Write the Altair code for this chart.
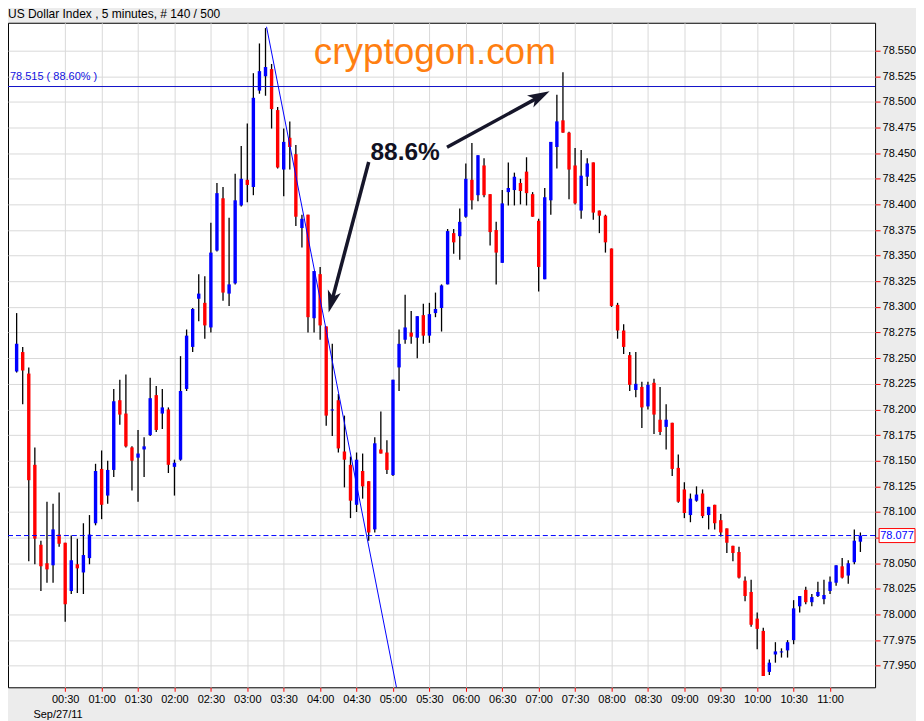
import json
import altair as alt
import pandas as pd

# ---------------- data ----------------
opens = [
    78.237, 78.256, 78.235, 78.146, 78.068, 78.050, 78.048, 78.078, 78.070, 78.023,
    78.049, 78.041, 78.055, 78.089, 78.142, 78.116, 78.141, 78.209, 78.196, 78.163,
    78.153, 78.161, 78.175, 78.214, 78.196, 78.200, 78.144, 78.151, 78.220, 78.261,
    78.308, 78.304, 78.280, 78.355, 78.406, 78.313, 78.323, 78.399, 78.424, 78.417,
    78.511, 78.525, 78.532, 78.492, 78.434, 78.465, 78.449, 78.377, 78.390, 78.289,
    78.332, 78.281, 78.199, 78.209, 78.159, 78.146, 78.107, 78.140, 78.130, 78.083,
    78.161, 78.158, 78.136, 78.241, 78.268, 78.275, 78.270, 78.292, 78.272, 78.294,
    78.299, 78.322, 78.372, 78.369, 78.388, 78.424, 78.409, 78.438, 78.410, 78.375,
    78.343, 78.412, 78.414, 78.421, 78.432, 78.410, 78.384, 78.327, 78.404, 78.456,
    78.482, 78.470, 78.438, 78.394, 78.427, 78.441, 78.394, 78.389, 78.357, 78.302,
    78.277, 78.253, 78.219, 78.222, 78.203, 78.226, 78.190, 78.183, 78.187, 78.143,
    78.122, 78.097, 78.111, 78.118, 78.097, 78.107, 78.092, 78.084, 78.067, 78.061,
    78.033, 78.022, 77.996, 77.984, 77.944, 77.961, 77.963, 77.965, 77.975, 78.008,
    78.024, 78.012, 78.018, 78.015, 78.023, 78.031, 78.047, 78.038, 78.051, 78.071,
]
highs = [
    78.294, 78.261, 78.241, 78.163, 78.072, 78.110, 78.108, 78.119, 78.070, 78.077,
    78.074, 78.089, 78.097, 78.147, 78.160, 78.150, 78.220, 78.229, 78.234, 78.164,
    78.180, 78.173, 78.231, 78.223, 78.220, 78.202, 78.151, 78.252, 78.278, 78.299,
    78.332, 78.330, 78.382, 78.421, 78.417, 78.387, 78.430, 78.457, 78.479, 78.528,
    78.557, 78.572, 78.537, 78.495, 78.474, 78.481, 78.458, 78.390, 78.390, 78.335,
    78.339, 78.281, 78.264, 78.215, 78.194, 78.154, 78.158, 78.157, 78.130, 78.173,
    78.198, 78.170, 78.229, 78.278, 78.312, 78.296, 78.291, 78.303, 78.304, 78.314,
    78.322, 78.376, 78.376, 78.396, 78.440, 78.460, 78.448, 78.445, 78.410, 78.383,
    78.414, 78.441, 78.431, 78.425, 78.446, 78.412, 78.386, 78.416, 78.461, 78.507,
    78.529, 78.471, 78.455, 78.453, 78.445, 78.441, 78.394, 78.390, 78.357, 78.304,
    78.283, 78.256, 78.256, 78.227, 78.227, 78.230, 78.222, 78.205, 78.187, 78.156,
    78.129, 78.118, 78.125, 78.122, 78.105, 78.107, 78.098, 78.084, 78.067, 78.066,
    78.037, 78.034, 78.002, 77.987, 77.956, 77.973, 77.967, 77.975, 78.014, 78.018,
    78.027, 78.020, 78.032, 78.034, 78.037, 78.048, 78.055, 78.053, 78.083, 78.080,
]
lows = [
    78.236, 78.205, 78.052, 78.049, 78.023, 78.031, 78.031, 78.066, 77.993, 78.020,
    78.021, 78.020, 78.049, 78.087, 78.093, 78.108, 78.134, 78.185, 78.163, 78.121,
    78.110, 78.134, 78.174, 78.178, 78.181, 78.138, 78.116, 78.150, 78.218, 78.256,
    78.286, 78.269, 78.275, 78.354, 78.306, 78.301, 78.322, 78.398, 78.402, 78.409,
    78.508, 78.506, 78.474, 78.435, 78.408, 78.434, 78.379, 78.358, 78.275, 78.275,
    78.268, 78.184, 78.174, 78.158, 78.124, 78.094, 78.100, 78.113, 78.072, 78.080,
    78.157, 78.137, 78.135, 78.218, 78.264, 78.264, 78.250, 78.264, 78.265, 78.290,
    78.276, 78.322, 78.352, 78.346, 78.387, 78.395, 78.403, 78.407, 78.360, 78.322,
    78.343, 78.399, 78.399, 78.400, 78.399, 78.388, 78.315, 78.327, 78.390, 78.435,
    78.470, 78.405, 78.400, 78.386, 78.418, 78.385, 78.372, 78.353, 78.300, 78.269,
    78.254, 78.218, 78.212, 78.182, 78.200, 78.176, 78.175, 78.161, 78.135, 78.109,
    78.094, 78.090, 78.110, 78.094, 78.083, 78.083, 78.076, 78.060, 78.052, 78.035,
    78.013, 77.988, 77.966, 77.940, 77.941, 77.953, 77.958, 77.958, 77.971, 78.002,
    78.010, 78.008, 78.017, 78.010, 78.020, 78.028, 78.035, 78.030, 78.049, 78.061,
]
closes = [
    78.264, 78.238, 78.131, 78.074, 78.047, 78.044, 78.083, 78.069, 78.010, 78.053,
    78.045, 78.058, 78.078, 78.140, 78.107, 78.141, 78.208, 78.195, 78.164, 78.150,
    78.157, 78.164, 78.211, 78.180, 78.202, 78.146, 78.148, 78.218, 78.272, 78.298,
    78.313, 78.282, 78.353, 78.411, 78.314, 78.322, 78.404, 78.425, 78.419, 78.504,
    78.530, 78.534, 78.493, 78.436, 78.461, 78.456, 78.388, 78.386, 78.290, 78.335,
    78.282, 78.194, 78.200, 78.162, 78.151, 78.111, 78.151, 78.125, 78.080, 78.167,
    78.157, 78.141, 78.229, 78.264, 78.280, 78.271, 78.291, 78.272, 78.293, 78.298,
    78.321, 78.374, 78.363, 78.383, 78.425, 78.404, 78.448, 78.409, 78.373, 78.353,
    78.401, 78.416, 78.427, 78.413, 78.411, 78.388, 78.339, 78.407, 78.461, 78.481,
    78.470, 78.434, 78.401, 78.428, 78.440, 78.392, 78.389, 78.363, 78.301, 78.277,
    78.261, 78.224, 78.225, 78.202, 78.224, 78.195, 78.178, 78.190, 78.142, 78.110,
    78.099, 78.113, 78.117, 78.096, 78.105, 78.089, 78.080, 78.070, 78.060, 78.036,
    78.018, 77.990, 77.986, 77.940, 77.953, 77.964, 77.964, 77.973, 78.006, 78.018,
    78.012, 78.017, 78.022, 78.019, 78.032, 78.048, 78.036, 78.050, 78.072, 78.077,
]

tick_bars = [8, 14, 20, 26, 32, 38, 44, 50, 56, 62, 68, 74, 80, 86, 92, 98, 104, 110, 116, 122, 128, 134]
tick_labels = ["00:30", "01:00", "01:30", "02:00", "02:30", "03:00", "03:30", "04:00", "04:30", "05:00",
               "05:30", "06:00", "06:30", "07:00", "07:30", "08:00", "08:30", "09:00", "09:30", "10:00",
               "10:30", "11:00"]
y_ticks = [77.950, 77.975, 78.000, 78.025, 78.050, 78.075, 78.100, 78.125, 78.150, 78.175,
           78.200, 78.225, 78.250, 78.275, 78.300, 78.325, 78.350, 78.375, 78.400, 78.425,
           78.450, 78.475, 78.500, 78.525, 78.550]

title_text = "US Dollar Index , 5 minutes, # 140 / 500"
date_label = "Sep/27/11"
retr_level = 78.515
retr_pct = 88.60
last_price = closes[-1]

# trend line (from the swing high, through the swing low, to the chart bottom)
trend_bars = [41.17, 62.57]
trend_prices = [78.5733, 77.929]

# annotations (bar index, price)
brand_text = "cryptogon.com"
brand_pos = (68.9, 78.537)
pct_text = "88.6%"
pct_pos = (64.0, 78.450)
arrow1 = {"x": 58.0, "y": 78.4414, "x2": 51.9, "y2": 78.3052, "tx": 51.4, "ty": 78.2945}
arrow2 = {"x": 70.9, "y": 78.4557, "x2": 86.1, "y2": 78.5049, "tx": 87.8, "ty": 78.5105}

# ---------------- chart ----------------
W, H = 869, 666
FONT = "Liberation Sans"
GRID = "#d9d9d9"

df = pd.DataFrame({"bar": list(range(len(opens))), "open": opens, "high": highs,
                   "low": lows, "close": closes})
df["dir"] = ["up" if c >= o else "down" for o, c in zip(opens, closes)]

xs = alt.Scale(domain=[-0.6, 140.6], nice=False, zero=False)
ys = alt.Scale(domain=[77.929, 78.5772], nice=False, zero=False)

label_expr = f"{json.dumps(tick_labels)}[indexof({json.dumps(tick_bars)}, datum.value)]"
# the axis label hidden behind the last-price box is left blank, as in the reference
y_label_expr = f"abs(datum.value - {last_price}) < 0.01 ? '' : format(datum.value, '.3f')"

x_axis = alt.Axis(values=tick_bars, labelExpr=label_expr, grid=True, gridColor=GRID,
                  gridWidth=1, tickColor="#ff0000", tickSize=4, domain=False,
                  labelFont=FONT, labelFontSize=11, labelColor="#000000", labelPadding=2,
                  labelFlush=False, title=date_label, titleX=25, titleY=30,
                  titleAlign="left", titleBaseline="alphabetic", titleFont=FONT,
                  titleFontSize=11, titleFontWeight="normal", titleColor="#000000")
y_axis = alt.Axis(orient="right", values=y_ticks, labelExpr=y_label_expr, grid=True,
                  gridColor=GRID, gridWidth=1, tickColor="#ff0000", tickSize=5, domain=False,
                  labelFont=FONT, labelFontSize=11, labelColor="#000000", labelPadding=2,
                  title=None)


def X(field):
    return alt.X(field, type="quantitative", scale=xs, axis=x_axis)


def Y(field):
    return alt.Y(field, type="quantitative", scale=ys, axis=y_axis)


base = alt.Chart(df)

wicks = base.mark_rule(color="black", strokeWidth=1.3).encode(
    x=X("bar"), y=Y("low"), y2="high:Q")

bodies = base.mark_bar(size=3.4).encode(
    x=X("bar"), y=Y("open"), y2="close:Q",
    color=alt.Color("dir:N", scale=alt.Scale(domain=["up", "down"], range=["#0000ff", "#ff0000"]),
                    legend=None),
)

trend = alt.Chart(pd.DataFrame({"bar": trend_bars, "price": trend_prices})).mark_line(
    color="#0000ff", strokeWidth=1, clip=True
).encode(x=X("bar"), y=Y("price"))

retr_df = pd.DataFrame({"price": [retr_level],
                        "label": [f"{retr_level:.3f} ( {retr_pct:.2f}% )"]})
retr_line = alt.Chart(retr_df).mark_rule(color="#1010c8", strokeWidth=1).encode(y=Y("price"))
retr_label = alt.Chart(retr_df).mark_text(
    align="left", baseline="bottom", dy=-5, font=FONT, fontSize=11, color="#1010e0"
).encode(x=alt.value(2), y=Y("price"), text="label:N")

last_df = pd.DataFrame({"price": [last_price], "label": [f"{last_price:.3f}"]})
last_line = alt.Chart(last_df).mark_rule(color="#0000ff", strokeWidth=1, strokeDash=[5, 3]).encode(
    y=Y("price"), x=alt.value(0), x2=alt.value(W + 3))
last_box = alt.Chart(last_df).mark_point(
    shape="M-1,-0.39L1,-0.39L1,0.39L-1,0.39Z", size=1296, filled=True, fill="white",
    stroke="#ff0000", strokeWidth=1, opacity=1
).encode(x=alt.value(W + 22), y=Y("price"))
last_text = alt.Chart(last_df).mark_text(
    align="center", baseline="middle", font=FONT, fontSize=11, color="#0000ff"
).encode(x=alt.value(W + 22), y=Y("price"), text="label:N")

brand = alt.Chart(pd.DataFrame({"bar": [brand_pos[0]], "price": [brand_pos[1]], "t": [brand_text]})).mark_text(
    align="center", baseline="alphabetic", font=FONT, fontSize=37, color="#ff7f11"
).encode(x=X("bar"), y=Y("price"), text="t:N")

pct = alt.Chart(pd.DataFrame({"bar": [pct_pos[0]], "price": [pct_pos[1]], "t": [pct_text]})).mark_text(
    align="center", baseline="middle", font=FONT, fontSize=24.5, fontWeight="bold", color="#111122"
).encode(x=X("bar"), y=Y("price"), text="t:N")

ARROW_COLOR = "#16162a"
arrows_df = pd.DataFrame([arrow1, arrow2])
shafts = alt.Chart(arrows_df).mark_rule(color=ARROW_COLOR, strokeWidth=3.5).encode(
    x=X("x"), y=Y("y"), x2="x2:Q", y2="y2:Q")
HEAD = "M0,0L0.55,1.8L0,1.35L-0.55,1.8Z"
head1 = alt.Chart(pd.DataFrame([arrow1])).mark_point(
    shape=HEAD, size=600, filled=True, color=ARROW_COLOR, opacity=1, angle=195
).encode(x=X("tx"), y=Y("ty"))
head2 = alt.Chart(pd.DataFrame([arrow2])).mark_point(
    shape=HEAD, size=600, filled=True, color=ARROW_COLOR, opacity=1, angle=62
).encode(x=X("tx"), y=Y("ty"))

chart = alt.layer(
    wicks, bodies, trend, retr_line, retr_label, last_line, brand, pct, shafts, head1, head2,
    last_box, last_text
).properties(
    width=W, height=H,
    title=alt.Title(text=title_text, anchor="start", frame="group", font=FONT, fontSize=12,
                    fontWeight="normal", color="#000000", offset=2),
    background="#ececec",
    padding={"left": 0, "top": 14, "right": 41, "bottom": 33},
    autosize=alt.AutoSizeParams(type="none"),
).configure_view(stroke="black", strokeWidth=1, fill="white")

chart.save("out.html", embed_options={"renderer": "svg", "actions": False})
